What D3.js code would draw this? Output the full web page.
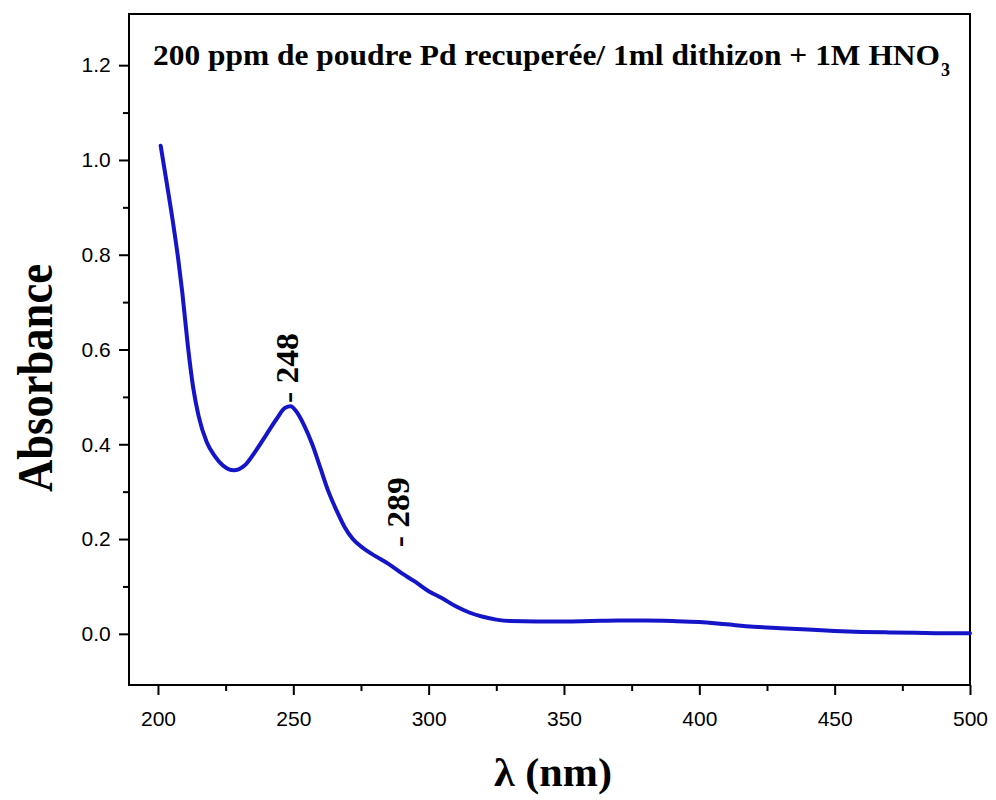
<!DOCTYPE html>
<html><head><meta charset="utf-8">
<script src="https://cdn.jsdelivr.net/npm/d3@7"></script>
<style>body{margin:0;background:#fff}</style>
</head><body>
<svg id="c" width="996" height="800"></svg>
<script>
const wavelength = [201,203,205.5,207.5,209,211,213,215,218,221,224,228,232,236,240,244,247,249,251,254,257,260,263,266,269,272,276,280,285,290,295,300,305,310,315,320,325,330,340,350,360,370,380,390,400,410,420,430,440,450,460,470,480,490,500];
const absorbance = [1.03,0.96,0.87,0.79,0.72,0.61,0.52,0.46,0.405,0.375,0.355,0.345,0.355,0.385,0.42,0.455,0.477,0.48,0.47,0.44,0.40,0.35,0.30,0.26,0.225,0.20,0.18,0.165,0.148,0.128,0.11,0.09,0.075,0.058,0.045,0.036,0.030,0.027,0.026,0.026,0.027,0.028,0.028,0.027,0.025,0.02,0.015,0.012,0.009,0.006,0.004,0.003,0.002,0.001,0.001];
const xTicks = [200,250,300,350,400,450,500];
const yTicks = [0.0,0.2,0.4,0.6,0.8,1.0,1.2];
const peaks = [{wl:248, label:"- 248"},{wl:289, label:"- 289"}];
const title = "200 ppm de poudre Pd recuperée/ 1ml dithizon + 1M HNO";

const SERIF = "'Liberation Serif', 'Times New Roman', Times, serif";
const svg = d3.select("#c");
const L=129, R=970, T=14, B=685;
const x = d3.scaleLinear().domain([189.3,500]).range([L,R]);
const y = d3.scaleLinear().domain([-0.108,1.308]).range([B,T]);

svg.append("rect").attr("x",L).attr("y",T).attr("width",R-L).attr("height",B-T)
  .attr("fill","none").attr("stroke","#000").attr("stroke-width",2);

const xAx = d3.axisBottom(x).tickValues(xTicks).tickSize(10).tickFormat(d3.format("d"));
const xMinor = d3.axisBottom(x).tickValues(d3.range(225,500,50)).tickSize(6).tickFormat("");
const yAx = d3.axisLeft(y).tickValues(yTicks).tickSize(10).tickFormat(d3.format(".1f"));
const yMinor = d3.axisLeft(y).tickValues(d3.range(0.1,1.3,0.2)).tickSize(6).tickFormat("");
function style(g){ g.select(".domain").remove(); g.selectAll("line").attr("stroke","#000").attr("stroke-width",2);
  g.selectAll("text").attr("font-family","'Liberation Sans', Arial, sans-serif").attr("font-size",21).attr("fill","#000"); }
svg.append("g").attr("transform",`translate(0,${B})`).call(xAx).call(style).selectAll("text").attr("dy","1.35em");
svg.append("g").attr("transform",`translate(0,${B})`).call(xMinor).call(style);
svg.append("g").attr("transform",`translate(${L},0)`).call(yAx).call(style).selectAll("text").attr("dx","-0.25em");
svg.append("g").attr("transform",`translate(${L},0)`).call(yMinor).call(style);

const line = d3.line().x((d,i)=>x(wavelength[i])).y(d=>y(d)).curve(d3.curveMonotoneX);
svg.append("path").datum(absorbance).attr("d",line).attr("fill","none")
  .attr("stroke","#1414c8").attr("stroke-width",4).attr("stroke-linecap","round").attr("stroke-linejoin","round");

peaks.forEach(p=>{
  const i = wavelength.findIndex(w=>w>=p.wl);
  const w0=wavelength[i-1], w1=wavelength[i], a=(p.wl-w0)/(w1-w0);
  const v = absorbance[i-1]*(1-a)+absorbance[i]*a;
  const px=x(p.wl), py=y(v) - (p.wl===248?4:24);
  svg.append("text").attr("transform",`translate(${px+10},${py}) rotate(-90)`)
    .attr("font-family",SERIF).attr("font-weight","bold")
    .attr("font-size",31).attr("fill","#000").attr("textLength",70).attr("lengthAdjust","spacingAndGlyphs").text(p.label);
});

svg.append("text").attr("x",153).attr("y",65)
  .attr("font-family",SERIF).attr("font-weight","bold")
  .attr("font-size",30).attr("fill","#000").attr("textLength",787).attr("lengthAdjust","spacingAndGlyphs").text(title);
svg.append("text").attr("x",941).attr("y",76)
  .attr("font-family",SERIF).attr("font-weight","bold")
  .attr("font-size",18).attr("fill","#000").text("3");

svg.append("text").attr("transform","translate(52,378) rotate(-90)").attr("text-anchor","middle")
  .attr("font-family",SERIF).attr("font-weight","bold")
  .attr("font-size",50).attr("fill","#000").attr("textLength",228).attr("lengthAdjust","spacingAndGlyphs").text("Absorbance");
svg.append("text").attr("x",553).attr("y",786).attr("text-anchor","middle")
  .attr("font-family",SERIF).attr("font-weight","bold")
  .attr("font-size",40).attr("fill","#000").attr("textLength",118).attr("lengthAdjust","spacingAndGlyphs").text("λ (nm)");
</script>
</body></html>
